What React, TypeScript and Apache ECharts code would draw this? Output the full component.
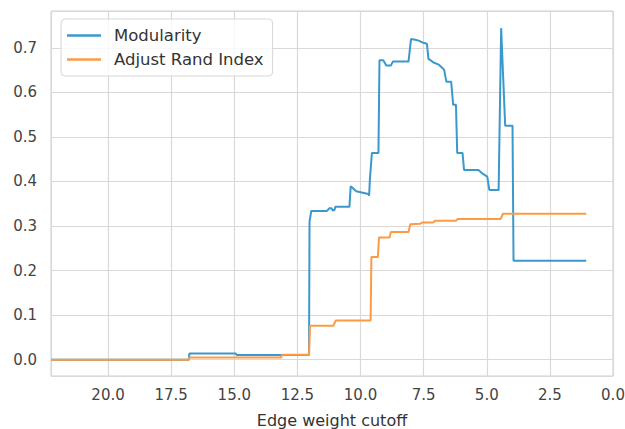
import React, { useEffect, useRef } from "react";
import * as echarts from "echarts";

const seriesNames = ["Modularity", "Adjust Rand Index"];

const modularityCutoff = [22.26, 16.8, 16.78, 14.95, 14.9, 12.04, 12.02, 11.95, 11.33, 11.23, 11.15, 11.1, 11.03, 11.0, 10.44, 10.39, 10.3, 10.17, 9.69, 9.66, 9.63, 9.55, 9.29, 9.25, 9.1, 8.98, 8.8, 8.72, 8.1, 8.0, 7.83, 7.7, 7.55, 7.37, 7.31, 7.18, 7.11, 6.9, 6.82, 6.69, 6.6, 6.41, 6.33, 6.22, 6.17, 5.96, 5.9, 5.33, 5.15, 4.98, 4.9, 4.53, 4.43, 4.36, 4.27, 3.98, 3.94, 1.06];
const modularity = [0, 0, 0.014, 0.014, 0.0105, 0.0105, 0.31, 0.334, 0.334, 0.34, 0.34, 0.335, 0.336, 0.343, 0.343, 0.389, 0.385, 0.378, 0.372, 0.368, 0.404, 0.464, 0.464, 0.672, 0.672, 0.66, 0.66, 0.669, 0.669, 0.7195, 0.718, 0.716, 0.712, 0.709, 0.675, 0.67, 0.667, 0.662, 0.658, 0.651, 0.624, 0.624, 0.572, 0.572, 0.464, 0.464, 0.426, 0.426, 0.417, 0.411, 0.381, 0.381, 0.744, 0.647, 0.525, 0.525, 0.222, 0.222];

const ariCutoff = [22.26, 16.8, 16.78, 13.14, 13.12, 12.04, 12.0, 11.08, 10.98, 9.6, 9.57, 9.31, 9.27, 8.85, 8.8, 8.1, 8.03, 7.64, 7.55, 7.11, 7.05, 6.22, 6.15, 4.45, 4.36, 1.06];
const ari = [0, 0, 0.005, 0.005, 0.011, 0.011, 0.0763, 0.0763, 0.088, 0.088, 0.2304, 0.2304, 0.274, 0.274, 0.2865, 0.2865, 0.304, 0.305, 0.308, 0.308, 0.312, 0.312, 0.3157, 0.3157, 0.3276, 0.3276];

const xMin = 0;
const xMax = 22.26;
const xInterval = 2.5;
const yMin = -0.0365;
const yMax = 0.7825;
const yInterval = 0.1;

const colors = ["#3b98cd", "#fd9a44"];
const FONT = "DejaVu Sans";

function isMultiple(v: number, step: number) {
  const r = v / step;
  return Math.abs(r - Math.round(r)) < 1e-6;
}

export default function App() {
  const ref = useRef<HTMLDivElement>(null);
  useEffect(() => {
    if (!ref.current) return;
    const chart = echarts.init(ref.current, undefined, { renderer: "svg" });
    const modData = modularityCutoff.map((x, i) => [x, modularity[i]]);
    const ariData = ariCutoff.map((x, i) => [x, ari[i]]);
    chart.setOption({
      animation: false,
      backgroundColor: "#ffffff",
      textStyle: { fontFamily: FONT },
      grid: {
        left: 51,
        top: 11,
        right: 12,
        bottom: 53,
        show: true,
        borderColor: "#cfcfcf",
        borderWidth: 1,
        containLabel: false,
        outerBoundsMode: "none",
      },
      legend: {
        data: seriesNames.map((n) => ({ name: n, icon: "rect" })),
        orient: "vertical",
        left: 61,
        top: 19,
        itemWidth: 34,
        itemHeight: 2.5,
        itemGap: 7,
        padding: [8, 9, 8, 6],
        backgroundColor: "rgba(255,255,255,0.8)",
        borderColor: "#d6d6d6",
        borderWidth: 1,
        borderRadius: 4,
        textStyle: {
          fontFamily: FONT,
          fontSize: 16.5,
          color: "#333333",
          padding: [0, 0, 0, 8],
        },
      },
      xAxis: {
        type: "value",
        min: xMin,
        max: xMax,
        interval: xInterval,
        inverse: true,
        name: "Edge weight cutoff",
        nameLocation: "middle",
        nameGap: 36,
        nameTextStyle: { fontFamily: FONT, fontSize: 16, color: "#333333" },
        axisLine: { show: false },
        axisTick: { show: false },
        axisLabel: {
          fontFamily: FONT,
          fontSize: 15,
          color: "#444444",
          margin: 11,
          formatter: (v: number) => (isMultiple(v, xInterval) ? v.toFixed(1) : ""),
        },
        splitLine: { show: true, lineStyle: { color: "#d9d9d9", width: 1.2 } },
      },
      yAxis: {
        type: "value",
        min: yMin,
        max: yMax,
        splitNumber: 8,
        minInterval: yInterval,
        maxInterval: yInterval,
        axisLine: { show: false },
        axisTick: { show: false },
        axisLabel: {
          fontFamily: FONT,
          fontSize: 15,
          color: "#444444",
          margin: 14,
          formatter: (v: number) => (isMultiple(v, yInterval) ? v.toFixed(1) : ""),
        },
        splitLine: { show: true, lineStyle: { color: "#d9d9d9", width: 1.2 } },
      },
      series: [
        {
          name: seriesNames[0],
          type: "line",
          data: modData,
          symbol: "none",
          showSymbol: false,
          color: colors[0],
          lineStyle: { color: colors[0], width: 2 },
          z: 3,
        },
        {
          name: seriesNames[1],
          type: "line",
          data: ariData,
          symbol: "none",
          showSymbol: false,
          color: colors[1],
          lineStyle: { color: colors[1], width: 2 },
          z: 4,
        },
      ],
    });
    return () => chart.dispose();
  }, []);
  return (
    <div
      ref={ref}
      style={{ position: "absolute", left: 0, top: 0, width: 625, height: 429 }}
    />
  );
}
